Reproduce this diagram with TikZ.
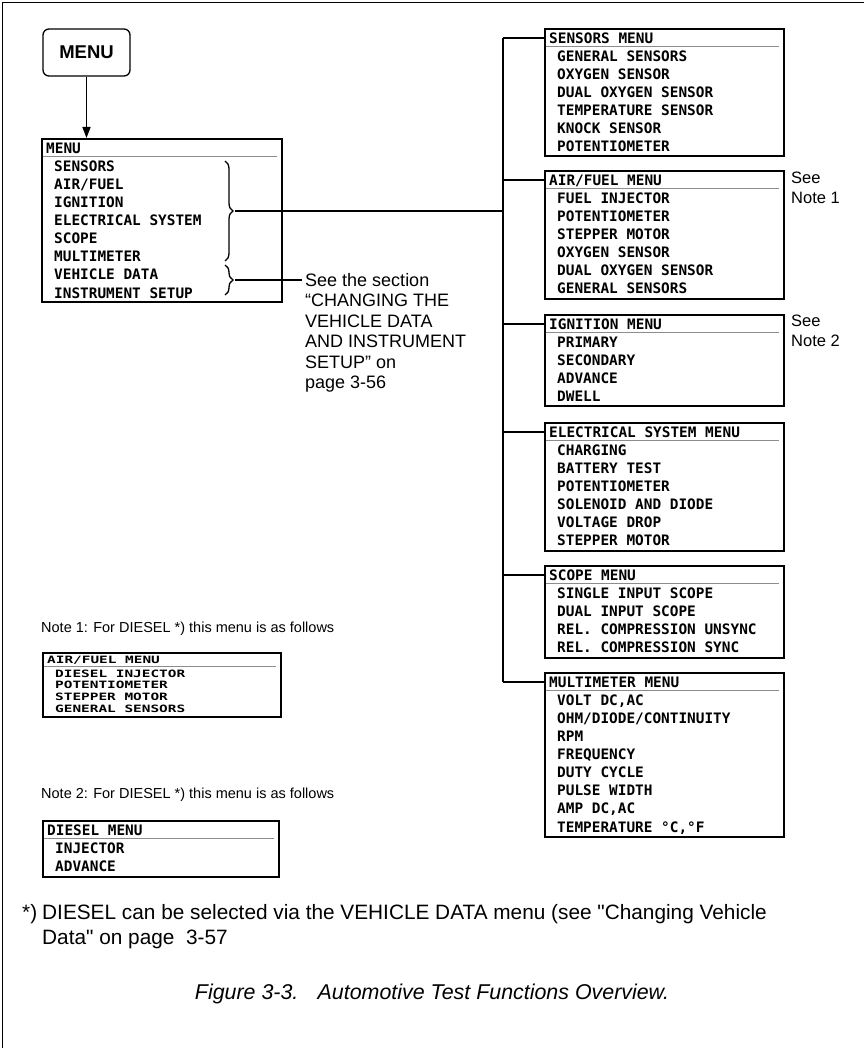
\documentclass[tikz,border=0pt]{standalone}
\usepackage{fontspec}
\usepackage{graphicx}
\setmainfont{Liberation Sans}[Ligatures=TeXOff]
\newfontfamily\lcdfont{DejaVu Sans Mono}
\usetikzlibrary{arrows.meta,decorations.pathreplacing}
\newcommand{\sqz}[1]{\scalebox{1}[0.7]{#1}}
\newcommand{\menubox}[7]{%
  \node[mbox, minimum width=#4pt, minimum height=#5pt] (#1) at (#2,#3) {};
  \draw[sepline] (#2+1.5,#3+18.5) -- (#2+#4-4,#3+18.5);
  \node[lcd] (#1-h) at (#2+5,#3+10) {#6};
  \foreach \t [count=\i] in {#7} {\node[lcd] (#1-\i) at (#2+13,#3+10+18.1*\i) {\t};}
}
\begin{document}
\begin{tikzpicture}[x=1pt,y=-1pt,
  mbox/.style={draw, line width=1.8pt, inner sep=0pt, anchor=north west},
  sepline/.style={draw=black!45, line width=1pt},
  lcd/.style={font=\lcdfont\bfseries\fontsize{14.4}{16}\selectfont, inner sep=0pt, anchor=west, text height=10.5pt, text depth=0pt},
  lcdsq/.style={font=\lcdfont\bfseries\fontsize{14.4}{16}\selectfont, inner sep=0pt, anchor=west, text height=7.4pt, text depth=0pt},
  conn/.style={line width=1.6pt},
  bracestyle/.style={line width=1.3pt, decorate, decoration={brace, amplitude=8pt}},
  notetext/.style={font=\fontsize{14.5}{17}\selectfont, inner sep=0pt, anchor=west},
  seetext/.style={font=\fontsize{18}{20.5}\selectfont, inner sep=0pt, anchor=north west, align=left},
  seenote/.style={font=\fontsize{16.5}{20}\selectfont, inner sep=0pt, anchor=north west, align=left},
  fntext/.style={font=\fontsize{20.8}{25}\selectfont, inner sep=0pt, anchor=base west},
]
\useasboundingbox (0,0) rectangle (864,1048);
% frame
\draw[line width=1.3pt] (2.5,1048) -- (2.5,2.5) -- (864,2.5);

% MENU button
\node[draw, rounded corners=6pt, line width=1.3pt, minimum width=87pt, minimum height=47pt,
      font=\bfseries\fontsize{18.5}{20}\selectfont] (btn) at (86.5,52.5) {MENU};

% main menu
\menubox{menu}{41}{138}{240}{163}{MENU}{SENSORS,AIR/FUEL,IGNITION,ELECTRICAL SYSTEM,SCOPE,MULTIMETER,VEHICLE DATA,INSTRUMENT SETUP}
\draw[conn, -{Triangle[length=11pt,width=8pt]}] (btn.south) -- (btn.south |- menu.north);

% right column
\menubox{sens}{544}{28}{239}{127}{SENSORS MENU}{GENERAL SENSORS,OXYGEN SENSOR,DUAL OXYGEN SENSOR,TEMPERATURE SENSOR,KNOCK SENSOR,POTENTIOMETER}
\menubox{air}{544}{170}{239}{128}{AIR/FUEL MENU}{FUEL INJECTOR,POTENTIOMETER,STEPPER MOTOR,OXYGEN SENSOR,DUAL OXYGEN SENSOR,GENERAL SENSORS}
\menubox{ign}{544}{314}{239}{91}{IGNITION MENU}{PRIMARY,SECONDARY,ADVANCE,DWELL}
\menubox{elec}{544}{422}{239}{128}{ELECTRICAL SYSTEM MENU}{CHARGING,BATTERY TEST,POTENTIOMETER,SOLENOID AND DIODE,VOLTAGE DROP,STEPPER MOTOR}
\menubox{scope}{544}{565}{239}{92}{SCOPE MENU}{SINGLE INPUT SCOPE,DUAL INPUT SCOPE,REL. COMPRESSION UNSYNC,REL. COMPRESSION SYNC}
\menubox{multi}{544}{672}{239}{164}{MULTIMETER MENU}{{VOLT DC,AC},OHM/DIODE/CONTINUITY,RPM,FREQUENCY,DUTY CYCLE,PULSE WIDTH,{AMP DC,AC},{TEMPERATURE °C,°F}}

% trunk and branches
\coordinate (tk) at (503,0);
\draw[conn] (tk |- sens-h) -- (tk |- multi-h);
\foreach \b in {sens,air,ign,elec,scope,multi}
  \draw[conn] (tk |- \b-h) -- (\b.west |- \b-h);

% braces
\coordinate (b1t) at (225,161);
\coordinate (b1b) at (225,261);
\coordinate (b1tip) at (235,211);
\coordinate (b2t) at (225,265);
\coordinate (b2b) at (225,295);
\coordinate (b2tip) at (235,280);
\draw[bracestyle] (b1t) -- (b1b);
\draw[bracestyle] (b2t) -- (b2b);
\draw[conn] (b1tip) -- (b1tip -| tk);

\node[seetext] (see) at (305,273) {See the section\\“CHANGING THE\\VEHICLE DATA\\AND INSTRUMENT\\SETUP” on\\page 3-56};
\draw[conn] (b2tip) -- ([xshift=-3pt]see.north west |- b2tip);

% see notes
\node[seenote] (sn1) at (791,172) {See\\Note 1};
\node[seenote] (sn2) at (791,315) {See\\Note 2};

% note 1
\node[notetext] (note1) at (41,629) {Note 1: For DIESEL *) this menu is as follows};
\node[mbox, minimum width=238pt, minimum height=64pt] (n1) at (42,652) {};
\draw[sepline] (43.5,666) -- (276,666);
\node[lcdsq] (n1-h) at (47,659.5) {\sqz{AIR/FUEL MENU}};
\foreach \t [count=\i] in {DIESEL INJECTOR,POTENTIOMETER,STEPPER MOTOR,GENERAL SENSORS}
  \node[lcdsq] (n1-\i) at (55,662+11.6*\i) {\sqz{\t}};

% note 2
\node[notetext] (note2) at (41,795) {Note 2: For DIESEL *) this menu is as follows};
\menubox{n2}{42}{820}{236}{56}{DIESEL MENU}{INJECTOR,ADVANCE}

% footnote
\node[fntext] (fn1) at (42,919) {DIESEL can be selected via the VEHICLE DATA menu (see "Changing Vehicle};
\node[fntext] (fn2) at (42,944) {Data" on page\ \ 3-57};
\node[fntext] (fnstar) at ([xshift=-20pt]fn1.base west) {*)};

% caption
\node[font=\itshape\fontsize{21.4}{24}\selectfont, inner sep=0pt] (cap) at (432,994) {Figure 3-3.\hspace{0.9em}Automotive Test Functions Overview.};
\end{tikzpicture}
\end{document}
